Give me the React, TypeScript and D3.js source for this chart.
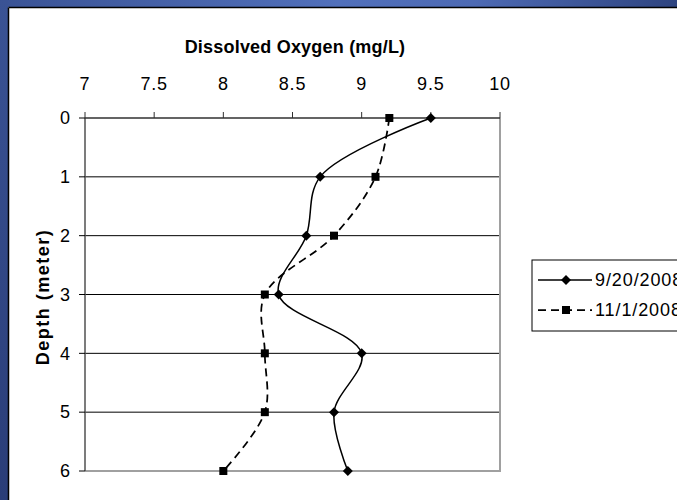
import React from "react";
import * as d3 from "d3";

const depths = [0, 1, 2, 3, 4, 5, 6];
const seriesNames = ["9/20/2008", "11/1/2008"];
const oxygenSep = [9.5, 8.7, 8.6, 8.4, 9.0, 8.8, 8.9];
const oxygenNov = [9.2, 9.1, 8.8, 8.3, 8.3, 8.3, 8.0];
const xTicks = [7, 7.5, 8, 8.5, 9, 9.5, 10];
const yTicks = [0, 1, 2, 3, 4, 5, 6];

const W = 677;
const H = 500;
const plot = { left: 85, right: 500, top: 118, bottom: 471 };

function Diamond({ x, y, r = 5 }: { x: number; y: number; r?: number }) {
  return <path d={`M${x},${y - r}L${x + r},${y}L${x},${y + r}L${x - r},${y}Z`} fill="#000" />;
}
function Square({ x, y, s = 8 }: { x: number; y: number; s?: number }) {
  return <rect x={x - s / 2} y={y - s / 2} width={s} height={s} fill="#000" />;
}

export default function App() {
  const x = d3.scaleLinear().domain([7, 10]).range([plot.left, plot.right]);
  const y = d3.scaleLinear().domain([0, 6]).range([plot.top, plot.bottom]);
  const line = d3
    .line<[number, number]>()
    .x((d) => x(d[0]))
    .y((d) => y(d[1]))
    .curve(d3.curveCatmullRom.alpha(0.5));
  const sep: [number, number][] = depths.map((d, i) => [oxygenSep[i], d]);
  const nov: [number, number][] = depths.map((d, i) => [oxygenNov[i], d]);
  const font = "'Liberation Sans', Arial, sans-serif";

  return (
    <svg
      width={W}
      height={H}
      style={{ position: "absolute", left: 0, top: 0, display: "block" }}
      fontFamily={font}
    >
      <defs>
        <linearGradient id="topBand" x1="0" x2="1" y1="0" y2="0">
          <stop offset="0" stopColor="#3a5395" />
          <stop offset="0.5" stopColor="#5170bb" />
          <stop offset="0.7" stopColor="#4d6ab4" />
          <stop offset="1" stopColor="#2e4480" />
        </linearGradient>
        <linearGradient id="leftBand" x1="0" x2="0" y1="0" y2="1">
          <stop offset="0" stopColor="#3a5395" />
          <stop offset="1" stopColor="#2a3d78" />
        </linearGradient>
      </defs>
      <rect x={0} y={0} width={W} height={H} fill="#fff" />
      <rect x={0} y={0} width={W} height={7} fill="url(#topBand)" />
      <rect x={0} y={0} width={8} height={H} fill="url(#leftBand)" />
      <line x1={8.5} x2={W} y1={7.5} y2={7.5} stroke="#000" strokeWidth={1.5} />
      <line x1={8.5} x2={8.5} y1={7.5} y2={H} stroke="#000" strokeWidth={1.5} />

      {/* gridlines */}
      {yTicks.slice(1, -1).map((t) => (
        <line key={t} x1={plot.left} x2={plot.right} y1={y(t)} y2={y(t)} stroke="#000" strokeWidth={1} />
      ))}
      {/* plot frame */}
      <line x1={plot.left} x2={plot.right} y1={plot.bottom} y2={plot.bottom} stroke="#a0a0a0" strokeWidth={2} />
      <line x1={plot.right} x2={plot.right} y1={plot.top} y2={plot.bottom + 1} stroke="#a0a0a0" strokeWidth={2} />
      <line x1={plot.left} x2={plot.left} y1={plot.top} y2={plot.bottom} stroke="#505050" strokeWidth={1.5} />
      <line x1={plot.left} x2={plot.right} y1={plot.top} y2={plot.top} stroke="#303030" strokeWidth={1.5} />

      {/* top axis ticks and labels */}
      {xTicks.map((t) => (
        <g key={t}>
          <line x1={x(t)} x2={x(t)} y1={plot.top - 6} y2={plot.top} stroke="#303030" strokeWidth={1} />
          <text x={x(t)} y={90} textAnchor="middle" fontSize={18} letterSpacing={0.8} fill="#000">
            {t}
          </text>
        </g>
      ))}
      {/* left axis ticks and labels */}
      {yTicks.map((t) => (
        <g key={t}>
          <line x1={plot.left - 6} x2={plot.left} y1={y(t)} y2={y(t)} stroke="#000" strokeWidth={1} />
          <text x={70} y={y(t)} dy="0.35em" textAnchor="end" fontSize={18} fill="#000">
            {t}
          </text>
        </g>
      ))}

      <text x={295} y={53} textAnchor="middle" fontSize={18} fontWeight="bold" letterSpacing={0.2} fill="#000">
        Dissolved Oxygen (mg/L)
      </text>
      <text
        transform={`translate(49,297) rotate(-90)`}
        textAnchor="middle"
        fontSize={18}
        fontWeight="bold"
        letterSpacing={1.5}
        fill="#000"
      >
        Depth (meter)
      </text>

      {/* series */}
      <path d={line(sep) ?? ""} fill="none" stroke="#000" strokeWidth={1.5} />
      <path d={line(nov) ?? ""} fill="none" stroke="#000" strokeWidth={1.75} strokeDasharray="8,5" />
      {sep.map((d, i) => (
        <Diamond key={i} x={x(d[0])} y={y(d[1])} />
      ))}
      {nov.map((d, i) => (
        <Square key={i} x={x(d[0])} y={y(d[1])} />
      ))}

      {/* legend */}
      <rect x={532} y={260} width={160} height={71} fill="#fff" stroke="#000" strokeWidth={1} />
      <line x1={538} x2={592} y1={280} y2={280} stroke="#000" strokeWidth={1.5} />
      <Diamond x={566} y={280} />
      <text x={595} y={280} dy="0.35em" fontSize={18} letterSpacing={0.9} fill="#000">
        {seriesNames[0]}
      </text>
      <line x1={538} x2={592} y1={310} y2={310} stroke="#000" strokeWidth={1.75} strokeDasharray="8,5" />
      <Square x={566} y={310} />
      <text x={595} y={310} dy="0.35em" fontSize={18} letterSpacing={0.9} fill="#000">
        {seriesNames[1]}
      </text>
    </svg>
  );
}
